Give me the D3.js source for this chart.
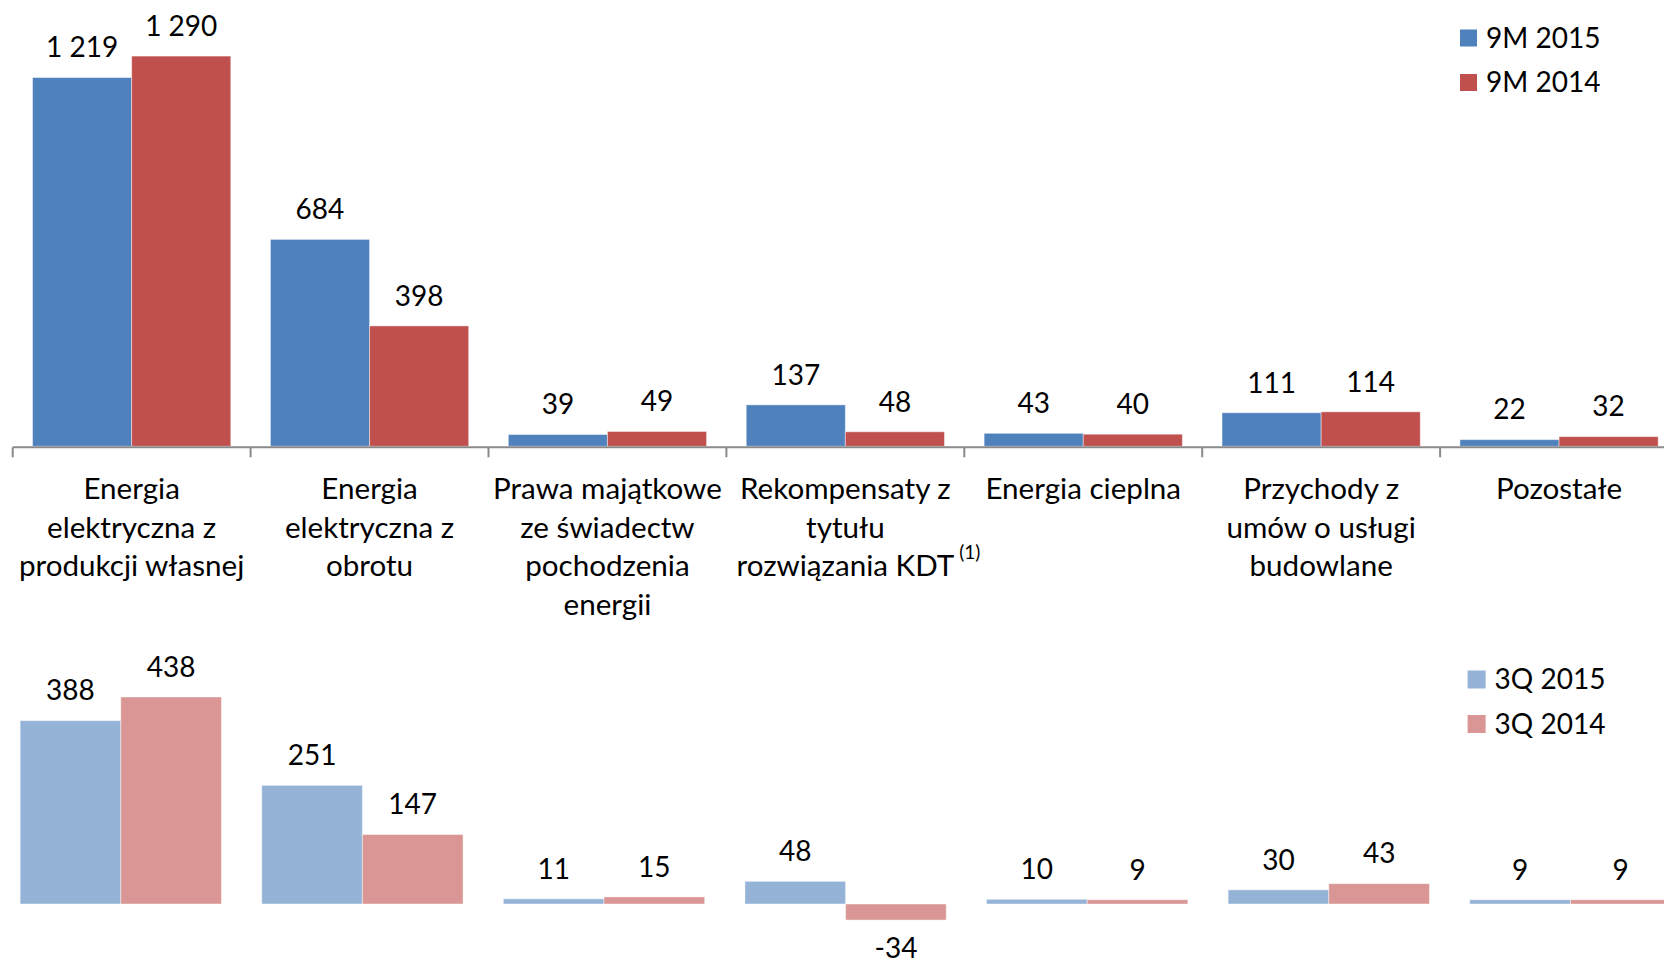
<!DOCTYPE html>
<html>
<head>
<meta charset="utf-8">
<script src="https://cdn.jsdelivr.net/npm/d3@7"></script>
<style>
  html, body { margin: 0; padding: 0; background: #fff; }
  svg { display: block; font-family: Lato, "Open Sans", sans-serif; }
</style>
</head>
<body>
<div id="chart"></div>
<script>
// categories (label lines)
const categories = [
    ["Energia", "elektryczna z", "produkcji własnej"],
    ["Energia", "elektryczna z", "obrotu"],
    ["Prawa majątkowe", "ze świadectw", "pochodzenia", "energii"],
    ["Rekompensaty z", "tytułu", "rozwiązania KDT"],
    ["Energia cieplna"],
    ["Przychody z", "umów o usługi", "budowlane"],
    ["Pozostałe"]
];
const catKeys = categories.map((c, i) => "c" + i);

// 9M values
const series9M = ["9M 2015", "9M 2014"];
const values9M2015 = [1219, 684, 39, 137, 43, 111, 22];
const values9M2014 = [1290, 398, 49, 48, 40, 114, 32];

// 3Q values
const series3Q = ["3Q 2015", "3Q 2014"];
const values3Q2015 = [388, 251, 11, 48, 10, 30, 9];
const values3Q2014 = [438, 147, 15, -34, 9, 43, 9];

const colors9M = ["#4F81BD", "#C0504D"];
const colors3Q = ["#95B3D7", "#D99694"];

const fmt = d3.formatLocale({decimal: ",", thousands: " ", grouping: [3], currency: ["", ""], minus: "-"}).format(",d");

const W = 1664, H = 964;
const FONT = 28;
const CAT_FONT = 29.6;

const svg = d3.select("#chart")
    .append("svg")
    .attr("width", W)
    .attr("height", H)
    .attr("viewBox", `0 0 ${W} ${H}`);

function drawBars(g, x, y, seriesNames, seriesValues, colors) {
    const xs = d3.scaleBand()
        .domain(seriesNames)
        .range([0, x.bandwidth()])
        .paddingInner(0)
        .paddingOuter(0.2);

    seriesNames.forEach((s, si) => {
        const vals = seriesValues[si];
        g.selectAll(null)
            .data(vals)
            .enter()
            .append("rect")
            .attr("x", (d, i) => x(catKeys[i]) + xs(s))
            .attr("y", d => y(Math.max(0, d)))
            .attr("width", xs.bandwidth())
            .attr("height", d => Math.abs(y(d) - y(0)))
            .attr("fill", colors[si])
            .attr("stroke", "#fff")
            .attr("stroke-opacity", 0.45)
            .attr("stroke-width", 1);

        g.selectAll(null)
            .data(vals)
            .enter()
            .append("text")
            .attr("x", (d, i) => x(catKeys[i]) + xs(s) + xs.bandwidth() / 2)
            .attr("y", d => d >= 0 ? y(d) - 30 : y(d) + 28)
            .attr("dy", ".35em")
            .attr("text-anchor", "middle")
            .attr("font-size", FONT + "px")
            .attr("fill", "#000")
            .text(d => fmt(d));
    });
}

function drawLegend(g, names, colors, x0, y0, gap, box) {
    names.forEach((n, i) => {
        g.append("rect")
            .attr("x", x0)
            .attr("y", y0 + i * gap - box / 2)
            .attr("width", box)
            .attr("height", box)
            .attr("fill", colors[i]);
        g.append("text")
            .attr("x", x0 + box + 9)
            .attr("y", y0 + i * gap)
            .attr("dy", ".35em")
            .attr("font-size", FONT + "px")
            .attr("fill", "#000")
            .text(n);
    });
}

// ---- top chart: 9M ----
const gTop = svg.append("g");
const xTop = d3.scaleBand()
    .domain(catKeys)
    .range([12.7, 12.7 + 7 * 237.9])
    .padding(0);
const yTop = d3.scaleLinear()
    .domain([0, 1400])
    .range([446.3, 22.8]);

drawBars(gTop, xTop, yTop, series9M, [values9M2015, values9M2014], colors9M);

// category axis
const axis = d3.axisBottom(xTop).tickSize(0).tickFormat("");
const axG = gTop.append("g")
    .attr("transform", `translate(0,${yTop(0) + 1})`)
    .call(axis);
axG.select(".domain")
    .attr("d", `M${xTop.range()[0]},0H${xTop.range()[1]}`)
    .attr("stroke", "#8a8a8a")
    .attr("stroke-width", 2);
catKeys.forEach(k => {
    axG.append("line")
        .attr("x1", xTop(k)).attr("x2", xTop(k))
        .attr("y1", 0).attr("y2", 10)
        .attr("stroke", "#8a8a8a")
        .attr("stroke-width", 2);
});

// category labels
categories.forEach((lines, i) => {
    const cx = xTop(catKeys[i]) + xTop.bandwidth() / 2;
    const t = gTop.append("text")
        .attr("text-anchor", "middle")
        .attr("font-size", CAT_FONT + "px")
        .attr("fill", "#000");
    lines.forEach((l, li) => {
        t.append("tspan")
            .attr("x", cx)
            .attr("y", 488.5 + li * 38.7)
            .attr("dy", ".35em")
            .text(l);
    });
    if (i === 3) {
        const last = t.selectAll("tspan").nodes()[lines.length - 1];
        const w = last.getComputedTextLength();
        gTop.append("text")
            .attr("x", cx + w / 2 + 5)
            .attr("y", 488.5 + (lines.length - 1) * 38.7 - 14)
            .attr("dy", ".35em")
            .attr("font-size", "19px")
            .attr("fill", "#000")
            .text("(1)");
    }
});

drawLegend(gTop, series9M, colors9M, 1460, 38, 44.5, 17);

// ---- bottom chart: 3Q ----
const gBot = svg.append("g");
const xBot = d3.scaleBand()
    .domain(catKeys)
    .range([0, 7 * 241.6])
    .padding(0);
const yBot = d3.scaleLinear()
    .domain([-100, 500])
    .range([904 + 47.26, 904 - 236.3]);

drawBars(gBot, xBot, yBot, series3Q, [values3Q2015, values3Q2014], colors3Q);

drawLegend(gBot, series3Q, colors3Q, 1467.6, 679.5, 44.5, 18);
</script>
</body>
</html>
